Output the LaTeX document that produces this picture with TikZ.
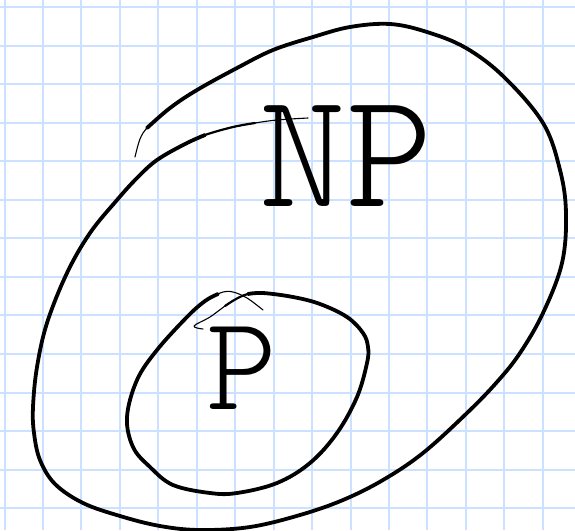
\documentclass[tikz,border=0pt]{standalone}
\usepackage{fontspec}
\newfontfamily\hand{lmmonolt10-regular.otf}
\definecolor{gridblue}{RGB}{204,224,255}
\begin{document}
\begin{tikzpicture}[x=1pt,y=-1pt,
  gridline/.style={draw=gridblue,line width=2pt},
  pen/.style={draw=black,line width=3.8pt,line cap=round,line join=round},
  thinpen/.style={draw=black,line width=1.1pt,line cap=round,line join=round},
  midpen/.style={draw=black,line width=2.2pt,line cap=round,line join=round},
  handtext/.style={inner sep=0pt,font=\hand}]
\useasboundingbox (0,0) rectangle (575,530);
\fill[white] (0,0) rectangle (575,530);
% grid
\foreach \k in {0,...,14} {\draw[gridline] ({4.5+38.45*\k},0) -- ({4.5+38.45*\k},530);}
\foreach \k in {0,...,13} {\draw[gridline] (0,{7+38.55*\k}) -- (575,{7+38.55*\k});}
% NP set (outer loop)
\draw[thinpen] plot[smooth,tension=0.6] coordinates {(135,157) (140,139) (147,128) (160,117)};
\draw[pen] plot[smooth,tension=0.6] coordinates {(147,128) (170,108) (197,90) (237,68) (273,50) (313,37) (350,27) (390,24) (427,32) (466,48) (504,77) (543,123) (560,170) (566,213) (562,263) (543,313) (520,353) (497,382) (467,413) (423,453) (383,480) (343,500) (300,515) (250,527) (200,530) (160,526) (120,516) (83,503) (55,484) (40,460) (34,433) (33,407) (37,367) (47,323) (67,273) (90,233) (117,200) (137,178) (157,160) (185,144) (205,135)};
\draw[midpen] plot[smooth,tension=0.6] coordinates {(185,144) (205,135) (233,127) (255,123)};
\draw[thinpen] plot[smooth,tension=0.6] coordinates {(233,127) (255,123) (277,120) (308,118)};
% P set (inner loop)
\draw[thinpen] plot[smooth,tension=0.6] coordinates {(263,310) (247,298) (233,292) (223,292) (212,297)};
\draw[pen] plot[smooth,tension=0.6] coordinates {(218,294) (205,301) (187,317) (157,350) (137,380) (127,417) (133,447) (150,467) (173,485) (210,493) (237,493) (277,483) (310,463) (337,433) (357,397) (367,363) (368,347) (363,333) (347,317) (320,304) (293,297) (263,293) (248,294)};
\draw[midpen] plot[smooth,tension=0.6] coordinates {(263,293) (248,294) (236,299) (225,306)};
\draw[thinpen] plot[smooth,tension=0.6] coordinates {(236,299) (225,306) (210,317) (194,326) (203,329)};
% labels
\node[handtext,font=\hand\fontsize{165}{165}\selectfont] (np) at (346,156) {NP};
\node[handtext,font=\hand\fontsize{135}{135}\selectfont] (p) at (242,368) {P};
\end{tikzpicture}
\end{document}
